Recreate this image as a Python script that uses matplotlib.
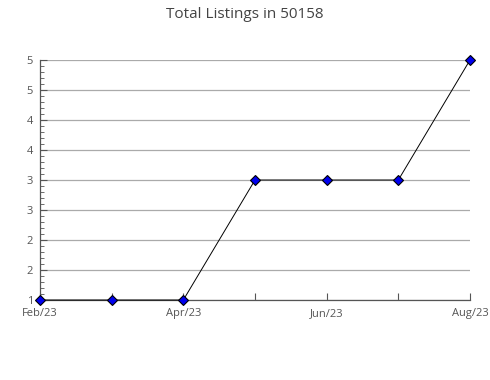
import matplotlib
matplotlib.use("Agg")
import matplotlib.pyplot as plt
from matplotlib.ticker import FuncFormatter, MultipleLocator

# data
months = ["Feb/23", "Mar/23", "Apr/23", "May/23", "Jun/23", "Jul/23", "Aug/23"]
listings = [1, 1, 1, 3, 3, 3, 5]
label_months = ["Feb/23", "Apr/23", "Jun/23", "Aug/23"]

plt.rcParams["font.family"] = ["Open Sans", "DejaVu Sans"]

fig = plt.figure(figsize=(4.9, 3.8), dpi=100)
ax = fig.add_axes([40 / 490, 1 - 300 / 380, 430 / 490, 240 / 380])

x = list(range(len(months)))
ax.plot(x, listings, color="black", linewidth=0.7, zorder=3, clip_on=False,
        marker="D", markersize=5, markerfacecolor="#0000ee",
        markeredgecolor="black", markeredgewidth=0.8)

ax.set_xlim(0, len(months) - 1)
ax.set_ylim(1, 5)

# y axis
ax.yaxis.set_major_locator(MultipleLocator(0.5))
ax.yaxis.set_minor_locator(MultipleLocator(0.1))
ax.yaxis.set_major_formatter(FuncFormatter(lambda v, p: str(int(v + 0.5))))
ax.grid(axis="y", color="#aaaaaa", linewidth=0.9)
ax.set_axisbelow(True)

# x axis
ax.set_xticks(x)
ax.set_xticklabels([m if m in label_months else "" for m in months])

for s in ["top", "right"]:
    ax.spines[s].set_visible(False)
for s in ["left", "bottom"]:
    ax.spines[s].set_color("#555555")
    ax.spines[s].set_linewidth(0.9)

ax.tick_params(axis="both", which="both", direction="in", colors="#555555",
               labelcolor="#555555", labelsize=8)
ax.tick_params(axis="y", which="major", length=5, pad=5)
ax.tick_params(axis="y", which="minor", length=3)
ax.tick_params(axis="x", which="major", length=5, pad=6)

fig.text(245 / 490, 1 - 15 / 380, "Total Listings in 50158", ha="center",
         va="center", fontsize=11, color="#444444")

fig.savefig("out.png", dpi=100)
